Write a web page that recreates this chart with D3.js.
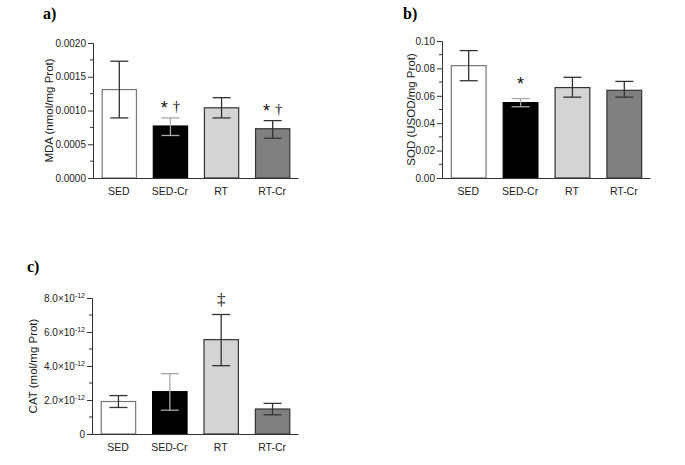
<!DOCTYPE html>
<html><head><meta charset="utf-8">
<script src="https://cdn.jsdelivr.net/npm/d3@7"></script>
<style>
body{margin:0;background:#fff;}
svg{display:block;}
</style></head>
<body>
<svg id="c" width="685" height="465"></svg>
<script>
const categories = ["SED", "SED-Cr", "RT", "RT-Cr"];
const barFills = ["#ffffff", "#000000", "#d4d4d4", "#808080"];
// a) MDA
const mdaMean = [0.00131, 0.00077, 0.00104, 0.00073];
const mdaLow  = [0.00089, 0.00063, 0.00089, 0.00059];
const mdaHigh = [0.00173, 0.00089, 0.00119, 0.00085];
const mdaTicks = [0, 0.0005, 0.0010, 0.0015, 0.0020];
const mdaMarks = ["", "* †", "", "* †"];
// b) SOD
const sodMean = [0.082, 0.055, 0.066, 0.064];
const sodLow  = [0.071, 0.052, 0.059, 0.059];
const sodHigh = [0.093, 0.058, 0.0735, 0.0705];
const sodTicks = [0, 0.02, 0.04, 0.06, 0.08, 0.10];
const sodMarks = ["", "*", "", ""];
// c) CAT
const catMean = [1.91e-12, 2.49e-12, 5.55e-12, 1.47e-12];
const catLow  = [1.56e-12, 1.40e-12, 4.02e-12, 1.13e-12];
const catHigh = [2.26e-12, 3.55e-12, 7.03e-12, 1.80e-12];
const catTicks = [0, 2e-12, 4e-12, 6e-12, 8e-12];
const catTickLabels = ["0", "2.0×10", "4.0×10", "6.0×10", "8.0×10"];
const catMarks = ["", "", "‡", ""];

const svg = d3.select("#c");
const SANS = "'Liberation Sans', Arial, sans-serif";
const SERIF = "'Liberation Serif', 'DejaVu Serif', serif";
const errColors = ["#333", "#a8a8a8", "#333", "#333"];
const strokeColors = ["#777", "#000", "#333", "#333"];

function panel(o) {
  const g = svg.append("g");
  const x = d3.scaleBand().domain(categories).range([o.x0, o.x1]).paddingInner(0.33).paddingOuter(0.17);
  const y = d3.scaleLinear().domain([0, o.max]).range([o.yb, o.yt]);
  g.selectAll("rect.bar").data(categories).join("rect")
    .attr("x", d => x(d) + 0.5).attr("width", x.bandwidth())
    .attr("y", (d, i) => y(o.mean[i])).attr("height", (d, i) => o.yb - y(o.mean[i]))
    .attr("fill", (d, i) => barFills[i]).attr("stroke", (d, i) => strokeColors[i]).attr("stroke-width", 1.2);
  categories.forEach((c, i) => {
    const cx = x(c) + x.bandwidth() / 2 + 0.5;
    const e = g.append("g").attr("stroke", errColors[i]).attr("stroke-width", 1.3);
    e.append("line").attr("x1", cx).attr("x2", cx).attr("y1", y(o.low[i])).attr("y2", y(o.high[i]));
    [o.low[i], o.high[i]].forEach(v => e.append("line").attr("x1", cx - 9).attr("x2", cx + 9).attr("y1", y(v)).attr("y2", y(v)));
    if (o.marks[i]) {
      const parts = o.marks[i].split(" ");
      const t = g.append("text").attr("x", cx).attr("y", y(o.high[i]) - o.markGap).attr("text-anchor", "middle")
        .style("font-size", o.markSize + "px").style("font-family", o.markFont || SANS).style("fill", "#111");
      if (parts.length === 2) {
        t.append("tspan").attr("dy", 3).style("font-family", SANS).style("font-size", "18px").text(parts[0]);
        t.append("tspan").attr("dx", 5).attr("dy", -3).style("font-family", SERIF).style("font-size", "15px").text(parts[1]);
      } else t.append("tspan").attr("dy", o.markSize > 16 ? 0 : 3).text(parts[0]);
    }
  });
  const minor = [];
  for (let k = 0; k < o.ticks.length - 1; k++) minor.push((o.ticks[k] + o.ticks[k + 1]) / 2);
  const ya = g.append("g").attr("transform", `translate(${o.x0},0)`)
    .call(d3.axisLeft(y).tickValues(o.ticks).tickSize(5).tickPadding(2).tickFormat((d, i) => o.fmt(d, i)));
  ya.selectAll("text").style("font-size", "10px").style("font-family", SANS).style("fill", "#222");
  ya.select(".domain").attr("stroke", "#333");
  ya.selectAll(".tick line").attr("stroke", "#333");
  if (o.sup) {
    ya.selectAll(".tick text").filter((d, i) => i > 0).append("tspan").attr("dy", -4).style("font-size", "7px").text("-12");
  }
  g.selectAll("line.minor").data(minor).join("line").attr("class", "minor")
    .attr("x1", o.x0 - 3).attr("x2", o.x0).attr("y1", d => y(d)).attr("y2", d => y(d)).attr("stroke", "#333");
  const xa = g.append("g").attr("transform", `translate(0,${o.yb})`)
    .call(d3.axisBottom(x).tickSize(0).tickPadding(10));
  xa.select(".domain").attr("stroke", "#333");
  xa.selectAll("text").style("font-size", "10.5px").style("font-family", SANS).style("fill", "#222");
  g.append("text").attr("transform", `translate(${o.tx},${(o.yt + o.yb) / 2}) rotate(-90)`)
    .attr("text-anchor", "middle").style("font-size", "11.5px").style("font-family", SANS).style("fill", "#222").text(o.title);
  g.append("text").attr("x", o.lx).attr("y", o.ly).style("font-family", SERIF)
    .style("font-weight", "bold").style("font-size", "16px").style("fill", "#000").text(o.label);
}

panel({x0: 93, x1: 298, yt: 43, yb: 178, max: 0.002, mean: mdaMean, low: mdaLow, high: mdaHigh,
  ticks: mdaTicks, fmt: d => d3.format(".4f")(d), marks: mdaMarks, markGap: 7, markSize: 15,
  title: "MDA (nmol/mg Prot)", tx: 53, label: "a)", lx: 43, ly: 19});
panel({x0: 442, x1: 650, yt: 41, yb: 178, max: 0.10, mean: sodMean, low: sodLow, high: sodHigh,
  ticks: sodTicks, fmt: d => d3.format(".2f")(d), marks: sodMarks, markGap: 9, markSize: 18,
  title: "SOD (USOD/mg Prot)", tx: 415, label: "b)", lx: 403, ly: 19});
panel({x0: 92, x1: 298, yt: 298, yb: 434, max: 8e-12, mean: catMean, low: catLow, high: catHigh,
  ticks: catTicks, fmt: (d, i) => catTickLabels[i], sup: true, marks: catMarks, markGap: 9, markSize: 17,
  markFont: SERIF,
  title: "CAT (mol/mg Prot)", tx: 37, label: "c)", lx: 27, ly: 272});
</script>
</body></html>
